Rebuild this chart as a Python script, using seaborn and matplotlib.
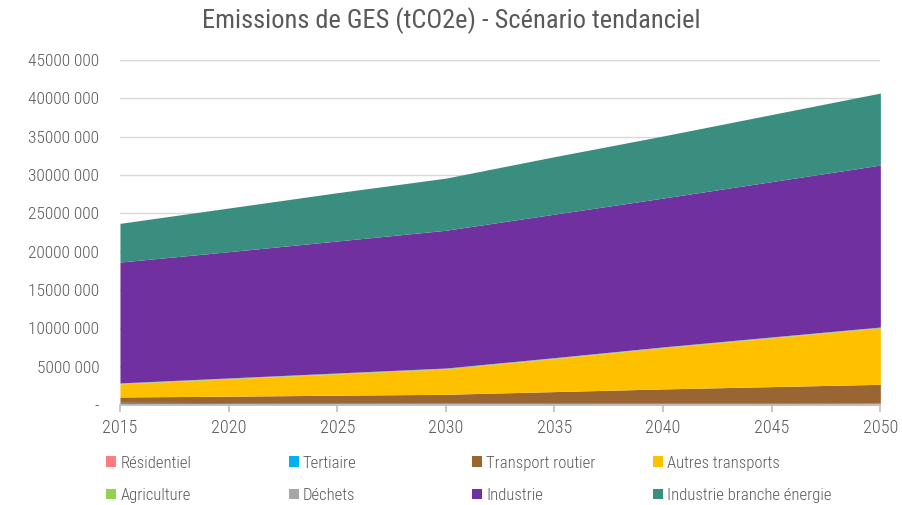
import matplotlib
matplotlib.use("Agg")
import matplotlib.pyplot as plt
from matplotlib.patches import Patch
from matplotlib.ticker import FuncFormatter
import seaborn as sns
import pandas as pd

# Données (MtCO2e, converties en tCO2e plus bas)
annees = [2015, 2020, 2025, 2030, 2035, 2040, 2045, 2050]
residentiel = [0.10, 0.10, 0.11, 0.12, 0.14, 0.16, 0.18, 0.22]
tertiaire = [0.25, 0.22, 0.20, 0.18, 0.17, 0.15, 0.13, 0.10]
transport_routier = [0.70, 0.83, 0.97, 1.10, 1.44, 1.79, 2.09, 2.38]
autres_transports = [1.70, 2.25, 2.77, 3.30, 4.30, 5.35, 6.35, 7.35]
agriculture = [0.08, 0.08, 0.08, 0.08, 0.08, 0.08, 0.08, 0.08]
dechets = [0.05, 0.05, 0.05, 0.05, 0.05, 0.05, 0.05, 0.05]
industrie = [15.77, 16.47, 17.22, 17.97, 18.72, 19.42, 20.27, 21.12]
branche_energie = [5.05, 5.70, 6.30, 6.80, 7.50, 8.10, 8.75, 9.40]

secteurs = ["Résidentiel", "Tertiaire", "Transport routier", "Autres transports",
            "Agriculture", "Déchets", "Industrie", "Industrie branche énergie"]
couleurs = ["#FF7C80", "#00B0F0", "#996633", "#FFC000",
            "#92D050", "#A6A6A6", "#7030A0", "#3A8E80"]

df = pd.DataFrame({
    "Résidentiel": residentiel,
    "Tertiaire": tertiaire,
    "Transport routier": transport_routier,
    "Autres transports": autres_transports,
    "Agriculture": agriculture,
    "Déchets": dechets,
    "Industrie": industrie,
    "Industrie branche énergie": branche_energie,
}, index=annees) * 1e6

sns.set_theme(style="white")
plt.rcParams["font.family"] = ["Roboto Condensed", "DejaVu Sans"]
plt.rcParams["font.weight"] = "light"
palette = sns.color_palette(couleurs)
gris = "#595959"

fig = plt.figure(figsize=(9.02, 5.05), dpi=100)
ax = fig.add_axes([0.133, 0.198, 0.843, 0.683])

ax.stackplot(df.index, [df[s] for s in secteurs], colors=palette, linewidth=0)

ax.set_xlim(2015, 2050)
ax.set_ylim(0, 45e6)
ax.set_xticks(annees)
ax.set_yticks(range(0, 45000001, 5000000))


def fmt(v, pos):
    v = int(round(v))
    if v == 0:
        return "-"
    return f"{v // 1000} {v % 1000:03d}"


ax.yaxis.set_major_formatter(FuncFormatter(fmt))
ax.grid(axis="y", color="#D9D9D9", linewidth=1)
ax.set_axisbelow(True)
for s in ["top", "right", "left"]:
    ax.spines[s].set_visible(False)
ax.spines["bottom"].set_color("#BFBFBF")
ax.tick_params(axis="x", colors=gris, labelsize=13, length=5, color="#BFBFBF",
               bottom=True, pad=5)
ax.tick_params(axis="y", colors=gris, labelsize=12.5, length=0, pad=15)

fig.suptitle("Emissions de GES (tCO2e) - Scénario tendanciel", y=0.985,
             fontsize=19, color=gris)

# Légende : 4 colonnes régulières de 2 lignes
colonnes = [(0, 4), (1, 5), (2, 6), (3, 7)]
x_pos = [0.118, 0.320, 0.523, 0.724]
for (i, j), x in zip(colonnes, x_pos):
    handles = [Patch(facecolor=palette[k], edgecolor="none") for k in (i, j)]
    fig.legend(handles, [secteurs[i], secteurs[j]], loc="upper left",
               bbox_to_anchor=(x, 0.098), frameon=False, fontsize=12,
               labelcolor=gris, handlelength=0.6, handleheight=0.6,
               handletextpad=0.25, labelspacing=1.05, borderaxespad=0,
               borderpad=0)

fig.savefig("out.png", dpi=100)
